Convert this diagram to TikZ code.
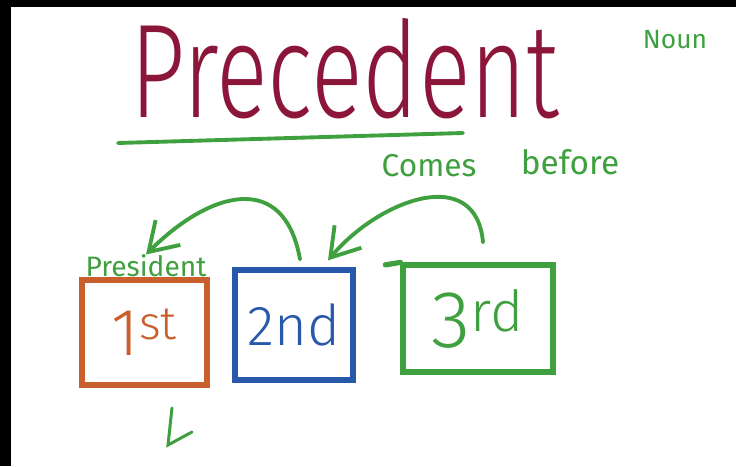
\documentclass[tikz,border=0pt]{standalone}
\usepackage{graphicx}
\usepackage{fontspec}
\setmainfont{Fira Sans Light}
\newfontfamily\penfont{Fira Sans}
\usetikzlibrary{arrows.meta}
\definecolor{inkred}{RGB}{140,22,58}
\definecolor{inkgreen}{RGB}{62,160,62}
\definecolor{inkorange}{RGB}{200,95,45}
\definecolor{inkblue}{RGB}{40,88,170}
\tikzset{
	box/.style={draw=#1, line width=3pt, text=#1, inner sep=0pt},
	pen/.style={draw=inkgreen, line width=2.2pt, line cap=round},
	bendarrow/.style={pen, -{Straight Barb[length=0.55cm,width=0.7cm]}},
	word/.style={text=inkgreen, inner sep=0pt}
}
\begin{document}
\begin{tikzpicture}
	\useasboundingbox (0,0) rectangle (14.72,9.32);
	\fill[black] (0,0) rectangle (14.72,9.32);
	\fill[white] (0.22,0) rectangle (14.72,9.18);

	\node[anchor=base, text=inkred, inner sep=0pt, font=\fontsize{76}{80}\selectfont] (title) at (6.9,6.96) {\scalebox{0.72}[1]{Precedent}};
	\draw[pen] (2.36,6.46) -- (9.26,6.66);
	\node[word, font=\penfont\fontsize{15}{17}\selectfont] (noun) at (13.5,8.52) {Noun};
	\node[word, font=\penfont\fontsize{18}{20}\selectfont] (comes) at (8.58,6.0) {Comes};
	\node[word, font=\penfont\fontsize{19}{21}\selectfont] (before) at (11.4,6.08) {before};

	\node[box=inkorange, minimum width=2.5cm, minimum height=2.1cm, font=\fontsize{38}{40}\selectfont] (first) at (2.89,2.67) {1\textsuperscript{st}};
	\node[box=inkblue, minimum width=2.36cm, minimum height=2.2cm, font=\fontsize{32}{34}\selectfont] (second) at (5.88,2.82) {2nd};
	\node[box=inkgreen, minimum width=3cm, minimum height=2.14cm, font=\fontsize{46}{48}\selectfont] (third) at (9.56,2.95) {3\textsuperscript{rd}};
	\draw[pen, line width=3pt] ([xshift=-3mm,yshift=-0.5mm]third.north west) -- (third.north west);
	\node[word, font=\penfont\fontsize{16}{18}\selectfont] (president) at (2.92,4.0) {President};

	\draw[bendarrow] ([xshift=1.2mm,yshift=1.6mm]second.north) to[out=100,in=45,looseness=1.5] (president.north);
	\draw[bendarrow] ([xshift=1mm,yshift=4mm]third.north) to[out=95,in=50,looseness=1.3] ([xshift=6.8mm,yshift=1.4mm]second.north);

	\draw[pen, line width=1.7pt] (3.44,1.16) -- (3.36,0.42) -- (3.84,0.68);
\end{tikzpicture}
\end{document}
